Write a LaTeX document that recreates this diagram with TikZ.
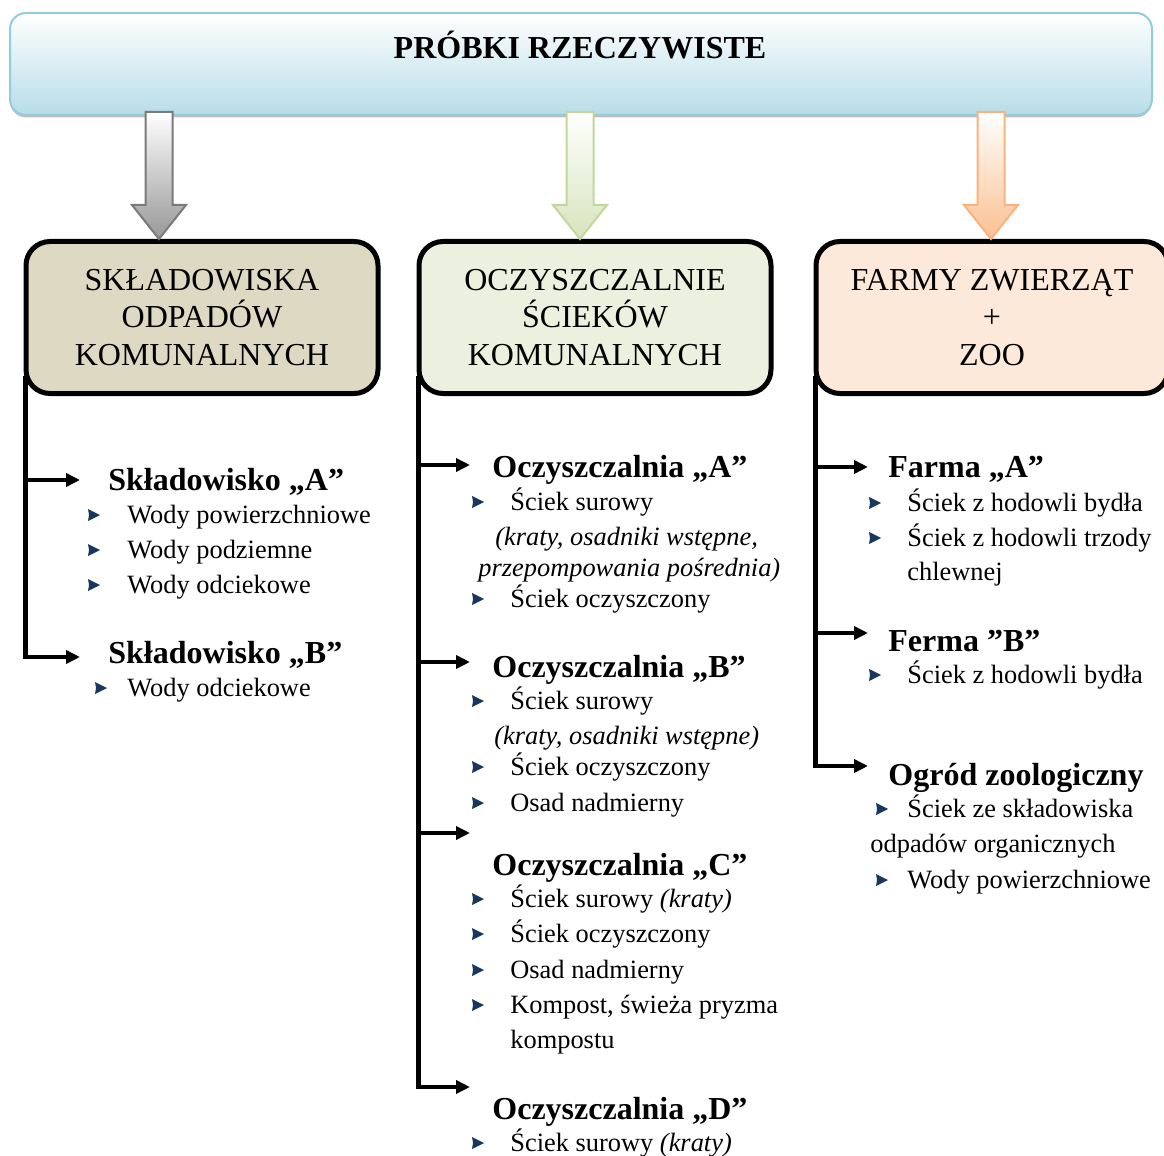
\documentclass[tikz,border=0pt]{standalone}
\usepackage{fontspec}
\setmainfont{Liberation Serif}
\usetikzlibrary{arrows.meta,shadows}

\definecolor{titleblue}{HTML}{B7DDE8}
\definecolor{titleline}{HTML}{93CDDD}
\definecolor{boxtan}{HTML}{DDD9C3}
\definecolor{boxgreen}{HTML}{EBF1DE}
\definecolor{boxpeach}{HTML}{FDE9D9}
\definecolor{arrgray}{HTML}{979797}
\definecolor{arrgrayline}{HTML}{7A7A7A}
\definecolor{arrgreen}{HTML}{D7E4BD}
\definecolor{arrgreenline}{HTML}{C3D69B}
\definecolor{arrorange}{HTML}{FAC090}
\definecolor{arrorangeline}{HTML}{F9B37E}
\definecolor{bulblue}{HTML}{17375E}

\tikzset{
  catbox/.style={draw=black, line width=2.5pt, rounded corners=12pt,
    minimum width=176pt, minimum height=76pt, align=center,
    font=\fontsize{16}{18.8}\selectfont},
  head/.style={anchor=west, inner sep=0pt, text height=10.6pt, text depth=0pt,
    font=\fontsize{16}{19}\selectfont\bfseries},
  txt/.style={anchor=west, inner sep=0pt, text height=8.7pt, text depth=0pt,
    font=\fontsize{13.2}{16}\selectfont},
  bul/.style={inner sep=0pt, outer sep=0pt, minimum width=6pt, minimum height=6pt,
    path picture={\fill[bulblue] (path picture bounding box.north west)
      -- (path picture bounding box.east) -- (path picture bounding box.south west)
      -- ([xshift=0.5pt]path picture bounding box.west) -- cycle;}},
  item/.style={txt, label={[bul, label distance=#1]left:{}}},
  item/.default=13pt,
  link/.style={line width=2.3pt, -{Triangle[length=7pt,width=6.5pt]}}
}

\begin{document}
\begin{tikzpicture}[x=0.5pt, y=-0.5pt]
    \useasboundingbox (0,0) rectangle (1164,1156);

    % naglowek
    \node[draw=titleline, line width=1pt, rounded corners=8pt,
          top color=white, bottom color=titleblue,
          minimum width=571pt, minimum height=51pt,
          drop shadow={shadow xshift=0pt, shadow yshift=-1.2pt, fill=black!50, opacity=.5}]
          (top) at (581,64) {};
    \node[head, anchor=center] (title) at (580,48) {PRÓBKI RZECZYWISTE};

    % kategorie
    \node[catbox, fill=boxtan] (skl) at (202,317.5) {SKŁADOWISKA\\ODPADÓW\\KOMUNALNYCH};
    \node[catbox, fill=boxgreen] (ocz) at (595,317.5) {OCZYSZCZALNIE\\ŚCIEKÓW\\KOMUNALNYCH};
    \node[catbox, fill=boxpeach] (farm) at (992,317.5) {FARMY ZWIERZĄT\\+\\ZOO};

    \foreach \ax/\af/\ad in {159/arrgray/arrgrayline, 580/arrgreen/arrgreenline, 991/arrorange/arrorangeline}{
        \coordinate (astart) at (\ax,0 |- top.south);
        \coordinate (aend) at (\ax,0 |- skl.north);
        \shade[draw=\ad, line width=1pt, top color=white, bottom color=\af]
            ([xshift=-6.75pt,yshift=2pt]astart) -- ([xshift=6.75pt,yshift=2pt]astart)
            -- ([xshift=6.75pt,yshift=17pt]aend) -- ([xshift=13.5pt,yshift=17pt]aend)
            -- (aend) -- ([xshift=-13.5pt,yshift=17pt]aend)
            -- ([xshift=-6.75pt,yshift=17pt]aend) -- cycle;
    }

    % skladowiska
    \node[head] (sklA) at (108,480) {Składowisko „A”};
    \node[item=13.5pt] (sklA1) at (127,515) {Wody powierzchniowe};
    \node[item=13.5pt] (sklA2) at (127,550) {Wody podziemne};
    \node[item=13.5pt] (sklA3) at (127,585) {Wody odciekowe};
    \node[head] (sklB) at (108,653) {Składowisko „B”};
    \node[item=10pt] (sklB1) at (127,688) {Wody odciekowe};

    \draw[link] ([xshift=1pt,yshift=10pt]skl.south west) |- ([xshift=-14pt]sklA.west);
    \draw[link] ([xshift=1pt,yshift=10pt]skl.south west) |- ([xshift=-14pt,yshift=-2pt]sklB.west);

    % oczyszczalnie
    \node[head] (ocA) at (492,467) {Oczyszczalnia „A”};
    \node[item] (ocA1) at (510,502) {Ściek surowy};
    \node[txt] (ocA2) at (495,537) {\textit{(kraty, osadniki wstępne,}};
    \node[txt] (ocA3) at (478,568) {\textit{przepompowania pośrednia)}};
    \node[item] (ocA4) at (510,599) {Ściek oczyszczony};

    \node[head] (ocB) at (492,667) {Oczyszczalnia „B”};
    \node[item] (ocB1) at (510,701) {Ściek surowy};
    \node[txt] (ocB2) at (494,736) {\textit{(kraty, osadniki wstępne)}};
    \node[item] (ocB3) at (510,767) {Ściek oczyszczony};
    \node[item] (ocB4) at (510,803) {Osad nadmierny};

    \node[head] (ocC) at (492,865) {Oczyszczalnia „C”};
    \node[item] (ocC1) at (510,899) {Ściek surowy \textit{(kraty)}};
    \node[item] (ocC2) at (510,934) {Ściek oczyszczony};
    \node[item] (ocC3) at (510,970) {Osad nadmierny};
    \node[item] (ocC4) at (510,1005) {Kompost, świeża pryzma};
    \node[txt] (ocC5) at (510,1040) {kompostu};

    \node[head] (ocD) at (492,1109) {Oczyszczalnia „D”};
    \node[item] (ocD1) at (510,1143) {Ściek surowy \textit{(kraty)}};

    \draw[link] ([xshift=1pt,yshift=10pt]ocz.south west) |- ([xshift=-11pt,yshift=1pt]ocA.west);
    \draw[link] ([xshift=1pt,yshift=10pt]ocz.south west) |- ([xshift=-11pt,yshift=2.5pt]ocB.west);
    \draw[link] ([xshift=1pt,yshift=10pt]ocz.south west) |- ([xshift=-11pt,yshift=16pt]ocC.west);
    \draw[link] ([xshift=1pt,yshift=10pt]ocz.south west) |- ([xshift=-11pt,yshift=11pt]ocD.west);

    % farmy i zoo
    \node[head] (farmA) at (888,467) {Farma „A”};
    \node[item] (farmA1) at (907,503) {Ściek z hodowli bydła};
    \node[item] (farmA2) at (907,538) {Ściek z hodowli trzody};
    \node[txt] (farmA3) at (907,572) {chlewnej};

    \node[head] (fermB) at (888,641) {Ferma "B”};
    \node[item] (fermB1) at (907,675) {Ściek z hodowli bydła};

    \node[head] (zoo) at (888,775) {Ogród zoologiczny};
    \node[item=9.5pt] (zoo1) at (907,809) {Ściek ze składowiska};
    \node[txt] (zoo2) at (870,844) {odpadów organicznych};
    \node[item=9.5pt] (zoo3) at (907,880) {Wody powierzchniowe};

    \draw[link] ([xshift=1pt,yshift=10pt]farm.south west) |- ([xshift=-10pt]farmA.west);
    \draw[link] ([xshift=1pt,yshift=10pt]farm.south west) |- ([xshift=-10pt,yshift=4pt]fermB.west);
    \draw[link] ([xshift=1pt,yshift=10pt]farm.south west) |- ([xshift=-10pt,yshift=4.5pt]zoo.west);
\end{tikzpicture}
\end{document}
